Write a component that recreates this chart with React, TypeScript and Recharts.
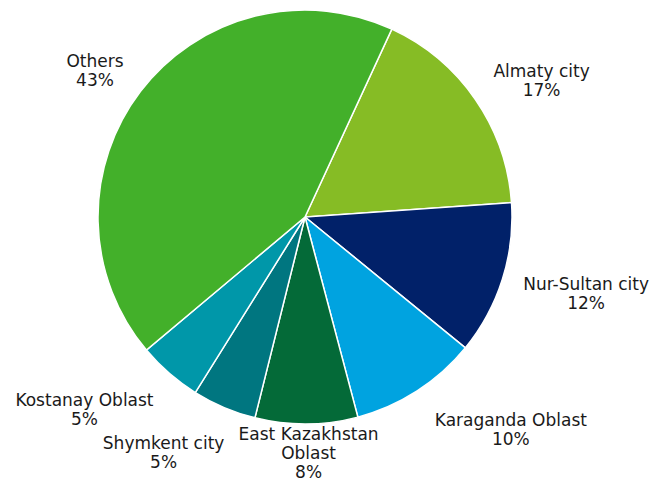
import { PieChart, Pie, Cell } from "recharts";

const REGIONS = [
  "Almaty city",
  "Nur-Sultan city",
  "Karaganda Oblast",
  "East Kazakhstan Oblast",
  "Shymkent city",
  "Kostanay Oblast",
  "Others",
];
const SHARES = [17, 12, 10, 8, 5, 5, 43];
const LABEL_LINES = [
  ["Almaty city"],
  ["Nur-Sultan city"],
  ["Karaganda Oblast"],
  ["East Kazakhstan", "Oblast"],
  ["Shymkent city"],
  ["Kostanay Oblast"],
  ["Others"],
];

const COLORS = ["#86BC25", "#012169", "#00A3E0", "#046A38", "#007680", "#0097A9", "#43B02A"];
// label placement tweaks (px) on top of the default outside placement
const LABEL_NUDGE = [
  [6, 8],
  [0, 2],
  [39, 3],
  [1.5, -23],
  [-27, 6],
  [-23, 5],
  [-3, 7],
];

const FONT_SIZE = 17;
const LINE_H = 19;
const LABEL_GAP = 25;
const FONT = "'DejaVu Sans', Verdana, sans-serif";
const RADIAN = Math.PI / 180;

let ctx: CanvasRenderingContext2D | null = null;
function textWidth(s: string) {
  if (!ctx) ctx = document.createElement("canvas").getContext("2d");
  if (!ctx) return s.length * FONT_SIZE * 0.6;
  ctx.font = `${FONT_SIZE}px 'DejaVu Sans'`;
  return ctx.measureText(s).width;
}

const data = REGIONS.map((name, i) => ({ name, value: SHARES[i] }));

function renderLabel(props: any) {
  const { cx, cy, midAngle, outerRadius, index, value } = props;
  const lines = [...LABEL_LINES[index], `${value}%`];
  const dx = Math.cos(-midAngle * RADIAN);
  const dy = Math.sin(-midAngle * RADIAN);
  const r = outerRadius + LABEL_GAP;
  const w = Math.max(...lines.map(textWidth));
  const h = lines.length * LINE_H;
  const bx = cx + r * dx + (dx * w) / 2 + LABEL_NUDGE[index][0];
  const by = cy + r * dy + (dy * h) / 2 + LABEL_NUDGE[index][1];
  const top = by - h / 2;
  return (
    <text
      key={`lbl-${index}`}
      x={bx}
      y={top}
      textAnchor="middle"
      fill="#1a1a1a"
      fontSize={FONT_SIZE}
      fontFamily={FONT}
    >
      {lines.map((l, i) => (
        <tspan key={i} x={bx} y={top + 14 + i * LINE_H}>
          {l}
        </tspan>
      ))}
    </text>
  );
}

export default function App() {
  return (
    <div style={{ width: 665, height: 480, background: "#fff" }}>
      <style>{`body{margin:0}`}</style>
      <PieChart width={665} height={480} margin={{ top: 0, right: 0, bottom: 0, left: 0 }}>
        <Pie
          data={data}
          dataKey="value"
          nameKey="name"
          cx={305}
          cy={217}
          outerRadius={207}
          startAngle={65.2}
          endAngle={65.2 - 360}
          stroke="#ffffff"
          strokeWidth={1.5}
          label={renderLabel}
          labelLine={false}
          isAnimationActive={false}
        >
          {data.map((d, i) => (
            <Cell key={d.name} fill={COLORS[i]} />
          ))}
        </Pie>
      </PieChart>
    </div>
  );
}
